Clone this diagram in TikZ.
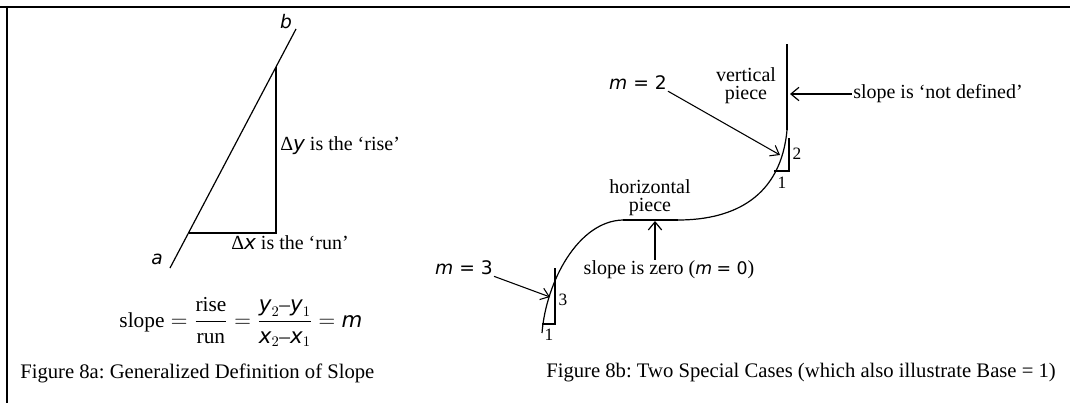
\documentclass[tikz,border=0pt]{standalone}
\usepackage{amsmath}
\usepackage{fontspec}
\setmainfont{Liberation Serif}
\newfontfamily\vfont{DejaVu Sans}
\usetikzlibrary{arrows.meta}
\frenchspacing
\newcommand{\mvar}[1]{{\vfont\itshape #1}}
\tikzset{
  txt/.style={inner sep=0.75pt, font=\fontsize{15}{15}\selectfont},
  captxt/.style={inner sep=0.75pt, font=\fontsize{15.5}{15.5}\selectfont},
  small/.style={inner sep=0.75pt, font=\fontsize{13}{13}\selectfont},
  sansv/.style={inner sep=0.75pt, font=\fontsize{14}{14}\selectfont\vfont},
  arr/.style={line width=0.8pt, -{Straight Barb[length=6pt,width=9pt]}},
  thickarr/.style={line width=1.6pt, -{Straight Barb[length=6pt,width=10pt,line width=0.9pt]}},
}
\begin{document}
\begin{tikzpicture}[x=0.75pt,y=0.75pt,yscale=-1,xscale=1]
\useasboundingbox (0,0) rectangle (1070,403);

%Frame
\draw [line width=2.2pt] (0,7) -- (1070,7) ;
\draw [line width=2.2pt] (7,6) -- (7,403) ;

% Figure 8a: line and triangle
\coordinate (a) at (170,268);
\coordinate (b) at (296,29);
\draw [line width=0.9pt] (a) -- (b) ;
\draw [line width=0.9pt] (189,233) -- (276,233) -- (276,67) ;

% Text Node
\node [sansv] (lbla) at (157,259) {\mvar{a}};
% Text Node
\node [sansv] (lblb) at (286,22) {\mvar{b}};
% Text Node
\node [txt, anchor=west] (rise) at (279,146) {Δ\mvar{y} is the ‘rise’};
% Text Node
\node [txt, anchor=west] (run) at (230,243) {Δ\mvar{x} is the ‘run’};
% Text Node
\node [txt, font=\fontsize{16}{16}\selectfont] (formula) at (241,322) {$\text{slope}=\dfrac{\text{rise}}{\text{run}}=\dfrac{\text{\mvar{y}}_2\text{--}\text{\mvar{y}}_1}{\text{\mvar{x}}_2\text{--}\text{\mvar{x}}_1}=\text{\mvar{m}}$};
% Text Node
\node [captxt, anchor=west] (capa) at (19,373) {Figure 8a: Generalized Definition of Slope};

% Figure 8b: curve with horizontal and vertical pieces
\coordinate (cstart) at (542,333);
\coordinate (hleft) at (623,220);
\coordinate (hmid) at (655,221);
\coordinate (hright) at (678,220);
\coordinate (vbot) at (787,130);
\coordinate (vtop) at (787,44);
\draw [line width=0.9pt] (cstart) .. controls (546,282) and (578,221) .. (hleft) ;
\draw [line width=1.6pt] (hleft) -- (hright) ;
\draw [line width=0.9pt] (hright) .. controls (735,220) and (781,196) .. (vbot) ;
\draw [line width=1.6pt] (vbot) -- (vtop) ;

% slope triangles
\draw [line width=0.9pt] (542,324) -- (555,324) -- (555,268) ;
\draw [line width=0.9pt] (774,171) -- (789,171) -- (789,138) ;
\node [small] (three) at (563,300) {3};
\node [small] (onea) at (549,335) {1};
\node [small] (two) at (797,154) {2};
\node [small] (oneb) at (782,183) {1};

% Text Node
\node [txt, align=center] (vpiece) at (746,86) {vertical\\[-1.5pt]piece};
% Text Node
\node [txt, align=center] (hpiece) at (650,198) {horizontal\\[-1.5pt]piece};
% Text Node
\node [txt, anchor=west] (undef) at (852,94) {slope is ‘not defined’};
% Text Node
\node [txt] (zero) at (669,270) {slope is zero ({\fontsize{13}{13}\selectfont\mvar{m} {\vfont = 0}})};
% Text Node
\node [sansv, anchor=east] (mtwo) at (668,83) {\mvar{m} = 2};
% Text Node
\node [sansv, anchor=east] (mthree) at (494,268) {\mvar{m} = 3};
% Text Node
\node [captxt, anchor=west] (capb) at (545,373) {Figure 8b: Two Special Cases (which also illustrate Base = 1)};

% arrows
\coordinate (tiptwo) at (780,155);
\coordinate (tipthree) at (550,297);
\coordinate (tipv) at (790,94);
\draw [arr] (mtwo.south east) -- (tiptwo) ;
\draw [arr] (mthree.south east) -- (tipthree) ;
\draw [thickarr] (undef.west) -- (tipv) ;
\draw [thickarr] (zero.north -| hmid) -- (hmid) ;

\end{tikzpicture}
\end{document}
